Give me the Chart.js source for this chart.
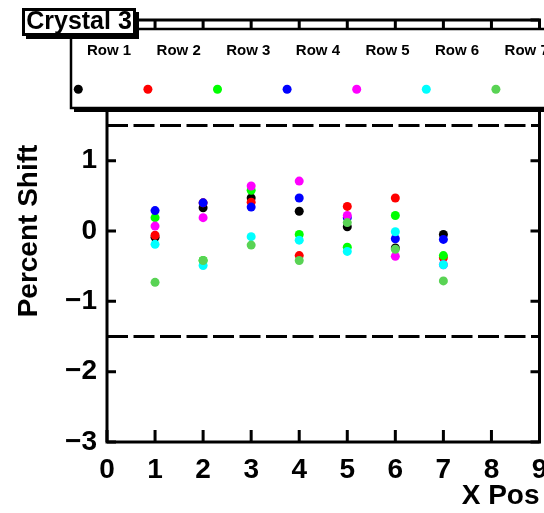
<!DOCTYPE html>
<html><head><meta charset="utf-8">
<script src="https://cdn.jsdelivr.net/npm/chart.js@4"></script>
<style>html,body{margin:0;padding:0;background:#fff;overflow:hidden}#wrap{width:544px;height:513px}</style>
</head><body><div id="wrap"><canvas id="c" width="544" height="513"></canvas></div>
<script>
const titleText = 'Crystal 3';
const xTitle = 'X Pos';
const yTitle = 'Percent Shift';
const xPositions = [1, 2, 3, 4, 5, 6, 7];
const rowLabels = ['Row 1', 'Row 2', 'Row 3', 'Row 4', 'Row 5', 'Row 6', 'Row 7'];
const rowColors = ['#000000', '#ff0000', '#00ff00', '#0000ff', '#ff00ff', '#00ffff', '#59d354'];
const row1 = [-0.09, 0.33, 0.47, 0.28, 0.06, -0.24, -0.05];
const row2 = [-0.06, 0.40, 0.41, -0.35, 0.35, 0.47, -0.38];
const row3 = [0.19, -0.42, 0.58, -0.05, -0.23, 0.22, -0.35];
const row4 = [0.29, 0.40, 0.34, 0.47, 0.19, -0.11, -0.12];
const row5 = [0.07, 0.19, 0.64, 0.71, 0.22, -0.36, -0.48];
const row6 = [-0.19, -0.49, -0.08, -0.13, -0.29, -0.01, -0.48];
const row7 = [-0.73, -0.42, -0.20, -0.42, 0.12, -0.26, -0.71];
const rows = [row1, row2, row3, row4, row5, row6, row7];
const limitLines = [1.5, -1.5];
const xRange = [0, 9];
const yRange = [-3, 3];
const FONT = '"Liberation Sans", Arial, Helvetica, sans-serif';

const datasets = rows.map((vals, i) => ({
  label: rowLabels[i],
  data: vals.map((v, j) => ({x: xPositions[j], y: v})),
  backgroundColor: rowColors[i],
  borderColor: rowColors[i],
  pointRadius: 4.5,
  pointBorderWidth: 0,
  showLine: false,
  order: rows.length - i
}));
limitLines.forEach(v => datasets.push({
  label: 'limit ' + v,
  type: 'line',
  data: xRange.map(x => ({x: x, y: v})),
  borderColor: '#000',
  borderWidth: 3,
  borderDash: [21, 5.5],
  pointRadius: 0,
  fill: false,
  order: 20
}));

const decor = {
  id: 'decor',
  afterDraw(chart) {
    const {ctx, chartArea: a, scales: {x, y}} = chart;
    ctx.save();
    // frame
    ctx.strokeStyle = '#000';
    ctx.lineWidth = 3;
    ctx.strokeRect(a.left, a.top, a.right - a.left, a.bottom - a.top);
    // ticks inside
    ctx.beginPath();
    for (let v = xRange[0]; v <= xRange[1]; v++) {
      const px = x.getPixelForValue(v);
      ctx.moveTo(px, a.bottom); ctx.lineTo(px, a.bottom - 12);
      ctx.moveTo(px, a.top); ctx.lineTo(px, a.top + 12);
    }
    for (let v = yRange[0]; v <= yRange[1]; v++) {
      const py = y.getPixelForValue(v);
      ctx.moveTo(a.left, py); ctx.lineTo(a.left + 9, py);
      ctx.moveTo(a.right, py); ctx.lineTo(a.right - 9, py);
    }
    ctx.stroke();
    // legend box
    ctx.fillStyle = '#000';
    ctx.fillRect(74, 33, 500, 79);
    ctx.fillStyle = '#fff';
    ctx.fillRect(70, 29, 500, 79);
    ctx.lineWidth = 2.5;
    ctx.strokeRect(71, 29, 500, 79);
    ctx.font = 'bold 15px ' + FONT;
    ctx.textBaseline = 'middle';
    ctx.textAlign = 'left';
    rowLabels.forEach((lab, i) => {
      ctx.fillStyle = '#000';
      ctx.fillText(lab, 87 + i * 69.6, 51);
      ctx.beginPath();
      ctx.fillStyle = rowColors[i];
      ctx.arc(78.3 + i * 69.6, 89.3, 4.5, 0, Math.PI * 2);
      ctx.fill();
    });
    // title box
    ctx.fillStyle = '#000';
    ctx.fillRect(26, 12, 113, 27);
    ctx.fillStyle = '#fff';
    ctx.fillRect(23, 9, 112, 26);
    ctx.lineWidth = 3;
    ctx.strokeStyle = '#000';
    ctx.strokeRect(23.5, 9.5, 111, 25);
    ctx.fillStyle = '#000';
    ctx.font = 'bold 25px ' + FONT;
    ctx.textAlign = 'center';
    ctx.fillText(titleText, 79, 22.5);
    ctx.restore();
  }
};

new Chart(document.getElementById('c'), {
  type: 'scatter',
  data: {datasets},
  options: {
    responsive: false,
    animation: false,
    devicePixelRatio: 1,
    layout: {padding: {top: 20, right: 3, left: 0, bottom: 0}},
    plugins: {legend: {display: false}, tooltip: {enabled: false}, title: {display: false}},
    scales: {
      x: {
        type: 'linear', min: xRange[0], max: xRange[1],
        grid: {display: false, drawTicks: false},
        border: {display: false},
        ticks: {stepSize: 1, autoSkip: false, maxRotation: 0, padding: 11, color: '#000',
          font: {family: FONT, size: 28, weight: 'bold'}},
        title: {display: true, text: xTitle, align: 'end', color: '#000',
          font: {family: FONT, size: 28, weight: 'bold'}, padding: {top: 0, bottom: 0}},
        afterFit(s) { s.height = 71; s.paddingLeft = 0; s.paddingRight = 0; }
      },
      y: {
        type: 'linear', min: yRange[0], max: yRange[1],
        grid: {display: false, drawTicks: false},
        border: {display: false},
        ticks: {stepSize: 1, padding: 10, color: '#000',
          font: {family: FONT, size: 28, weight: 'bold'},
          callback: v => v > 1 ? '' : (v < 0 ? '\u2212' + Math.abs(v) : String(v))},
        title: {display: true, text: yTitle, align: 'center', color: '#000',
          font: {family: FONT, size: 28, weight: 'bold'}, padding: {top: 12, bottom: 0}},
        afterFit(s) { s.width = 107; s.paddingTop = 0; s.paddingBottom = 0; }
      }
    }
  },
  plugins: [decor]
});
</script></body></html>
